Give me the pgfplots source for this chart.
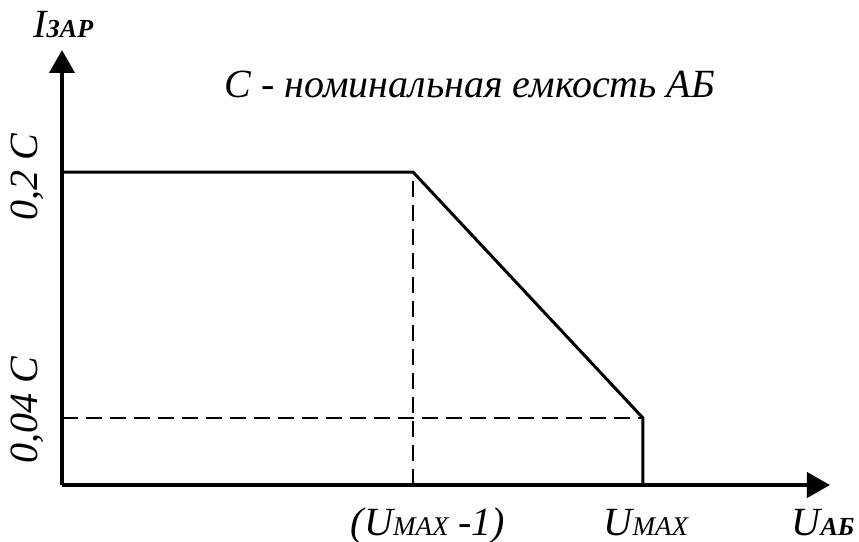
\documentclass[border=0pt]{standalone}
\usepackage{fontspec}
\setmainfont{Liberation Serif}
\usepackage{pgfplots}
\pgfplotsset{compat=1.18}
\usetikzlibrary{arrows.meta}
\newcommand\bigf{\fontsize{20}{22}\selectfont\itshape}
\newcommand\smb[1]{{\fontsize{13}{14}\selectfont\bfseries\itshape #1}}
\newcommand\sm[1]{{\fontsize{13.5}{14}\selectfont\itshape #1}}
\begin{document}
\begin{tikzpicture}
\useasboundingbox (-31pt,-28.5pt) rectangle (398.5pt,242.5pt);
\begin{axis}[
  at={(0,0)}, anchor=south west,
  scale only axis, width=384pt, height=217.5pt,
  xmin=0, xmax=768, ymin=0, ymax=435,
  axis lines=left,
  axis line style={line width=2pt, -{Triangle[length=11.5pt,width=12.5pt]}},
  xtick=\empty, ytick=\empty,
  clip=false,
]
\addplot[line width=1.5pt, black] coordinates {(0,313) (351,313) (581,67) (581,0)};
\addplot[line width=0.8pt, black, dash pattern=on 8pt off 4pt] coordinates {(351,0) (351,313)};
\addplot[line width=0.8pt, black, dash pattern=on 8pt off 4pt] coordinates {(0,67) (581,67)};
\node[anchor=base west, inner sep=0] at (axis cs:-29,447) {\bigf I\smb{ЗАР}};
\node[anchor=base, inner sep=0] at (axis cs:408,387) {\bigf С - номинальная емкость АБ};
\node[anchor=base, inner sep=0, rotate=90] at (axis cs:-24,308) {\bigf 0,2 C};
\node[anchor=base, inner sep=0, rotate=90] at (axis cs:-24,75) {\bigf 0,04 C};
\node[anchor=base, inner sep=0] at (axis cs:366,-50) {\bigf (U\sm{MAX} -1)};
\node[anchor=base, inner sep=0] at (axis cs:584,-50) {\bigf U\sm{MAX}};
\node[anchor=base, inner sep=0] at (axis cs:761,-50) {\bigf U\smb{АБ}};
\end{axis}
\end{tikzpicture}
\end{document}
